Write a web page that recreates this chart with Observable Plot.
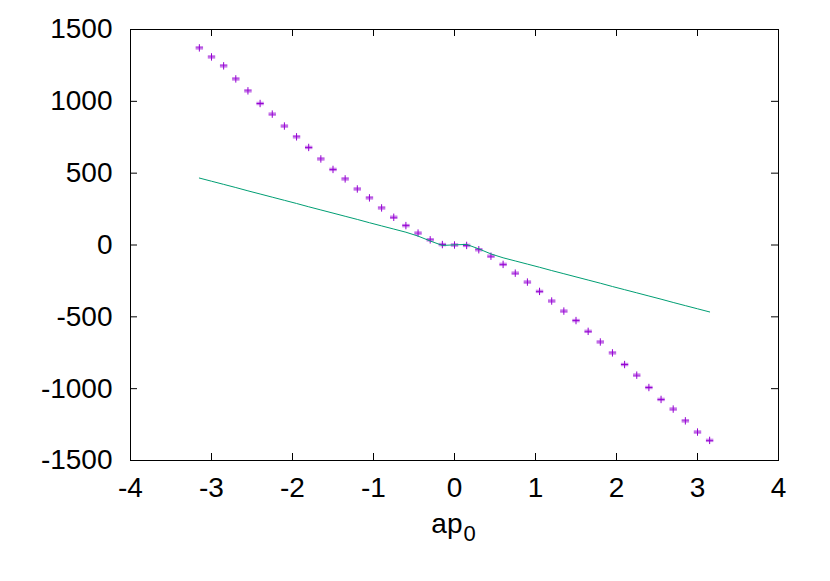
<!DOCTYPE html>
<html>
<head>
<meta charset="utf-8">
<script src="https://cdn.jsdelivr.net/npm/d3@7"></script>
<script src="https://cdn.jsdelivr.net/npm/@observablehq/plot@0.6"></script>
<style>
  html, body { margin: 0; padding: 0; background: #fff; }
  #chart svg { display: block; }
</style>
</head>
<body>
<div id="chart"></div>
<script>
// ---- data ----
const xs = [-3.15, -3.0, -2.85, -2.7, -2.55, -2.4, -2.25, -2.1, -1.95, -1.8, -1.65, -1.5, -1.35, -1.2, -1.05, -0.9, -0.75, -0.6, -0.45, -0.3, -0.15, 0,
            0.15, 0.3, 0.45, 0.6, 0.75, 0.9, 1.05, 1.2, 1.35, 1.5, 1.65, 1.8, 1.95, 2.1, 2.25, 2.4, 2.55, 2.7, 2.85, 3.0, 3.15];
const pointY = [1372, 1309, 1247, 1156, 1073, 985, 911, 828, 753, 679, 599, 526, 460, 390, 328, 258, 193, 135, 83, 36, 3, 0,
                -3, -33, -78, -135, -196, -258, -323, -390, -460, -526, -601, -675, -751, -832, -906, -992, -1075, -1142, -1224, -1302, -1360];
const lineY = [466, 444, 422, 400, 377, 355, 333, 311, 289, 266, 244, 222, 200, 178, 155, 133, 111, 89, 62, 28, -3, 1,
               4, -27, -62, -89, -111, -133, -155, -178, -200, -222, -244, -266, -289, -311, -333, -355, -377, -400, -422, -444, -466];
const xTicks = [-4, -3, -2, -1, 0, 1, 2, 3, 4];
const yTicks = [-1500, -1000, -500, 0, 500, 1000, 1500];
const xLabelMain = "ap";
const xLabelSub = "0";

const points = xs.map((x, i) => ({x, y: pointY[i]}));
const fit = xs.map((x, i) => ({x, y: lineY[i]}));

// ---- layout ----
const W = 830, H = 581;
const mL = 130, mR = 52, mT = 29, mB = 121;
const innerW = W - mL - mR, innerH = H - mT - mB;
const tickLen = 7;
const purple = "#9400d3", green = "#009e73";

// gnuplot-like "+" point and errorbar caps
const plusSym = {draw(ctx, size) { const h = 3.7;
  ctx.moveTo(-h, 0); ctx.lineTo(h, 0); ctx.moveTo(0, -h); ctx.lineTo(0, h); }};
const capSym = {draw(ctx, size) { const h = 3.7, e = 1.2;
  ctx.moveTo(-h, -e); ctx.lineTo(h, -e); ctx.moveTo(-h, e); ctx.lineTo(h, e); }};

const chart = Plot.plot({
  width: W, height: H,
  marginLeft: mL, marginRight: mR, marginTop: mT, marginBottom: mB,
  style: {fontFamily: "'Liberation Sans', Arial, Helvetica, sans-serif", fontSize: "28px", color: "black", background: "white"},
  x: {domain: [-4, 4]},
  y: {domain: [-1500, 1500]},
  marks: [
    Plot.axisX({ticks: xTicks, tickSize: 0, tickPadding: 17, fontSize: 28, tickFormat: d => String(d), label: null}),
    Plot.axisY({ticks: yTicks, tickSize: 0, tickPadding: 18, fontSize: 28, tickFormat: d => String(d), label: null}),
    // inward ticks on all four sides
    Plot.tickX(xTicks, {x: d => d, insetTop: innerH - tickLen, stroke: "black"}),
    Plot.tickX(xTicks, {x: d => d, insetBottom: innerH - tickLen, stroke: "black"}),
    Plot.tickY(yTicks, {y: d => d, insetRight: innerW - tickLen, stroke: "black"}),
    Plot.tickY(yTicks, {y: d => d, insetLeft: innerW - tickLen, stroke: "black"}),
    // data
    Plot.dot(points, {x: "x", y: "y", symbol: capSym, r: 4, fill: "none", stroke: purple, strokeOpacity: 0.55, strokeWidth: 1}),
    Plot.dot(points, {x: "x", y: "y", symbol: plusSym, r: 4, fill: "none", stroke: purple, strokeWidth: 1}),
    Plot.line(fit, {x: "x", y: "y", stroke: green, strokeWidth: 1, curve: "linear"}),
    Plot.frame({stroke: "black", strokeWidth: 1}),
    // x-axis label "ap" with subscript 0
    Plot.text([xLabelMain], {frameAnchor: "bottom", text: d => d, textAnchor: "end", dx: 8, dy: 72, fontSize: 28, fill: "black"}),
    Plot.text([xLabelSub], {frameAnchor: "bottom", text: d => d, textAnchor: "start", dx: 9, dy: 80, fontSize: 22, fill: "black"})
  ]
});
document.getElementById("chart").appendChild(chart);
</script>
</body>
</html>
